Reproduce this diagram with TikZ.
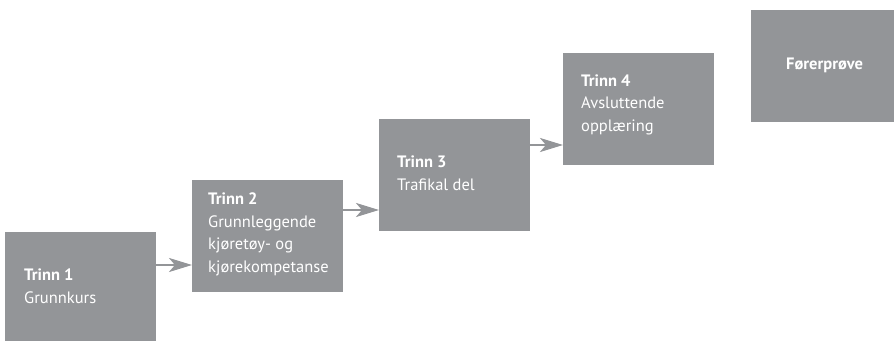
\documentclass[tikz,border=0pt]{standalone}
\usepackage{fontspec}
\setmainfont{PT Sans}
\usetikzlibrary{arrows.meta}
\definecolor{stepgray}{HTML}{939598}

\begin{document}
\begin{tikzpicture}[x=1pt, y=-1pt, font=\fontsize{16.5}{22.5}\selectfont,
    >={Stealth[length=23pt, width=14pt, inset=6pt]},
    box/.style={fill=stepgray, minimum width=151pt, minimum height=112pt,
      anchor=north west, inner sep=0pt, outer sep=0pt},
    lbl/.style={text=white, anchor=base west, align=left, inner sep=0pt},
    arr/.style={->, draw=stepgray, fill=stepgray, line width=2.4pt}]
    \useasboundingbox (0,0) rectangle (894,340);
    % boxes
    \node[box] (b1) at (5,232) {};
    \node[box] (b2) at (192,180) {};
    \node[box] (b3) at (379,119) {};
    \node[box] (b4) at (563,53) {};
    \node[box] (b5) at (751,10) {};
    % texts (base = last line)
    \node[lbl] (t1) at (24,303) {\textbf{Trinn 1}\\Grunnkurs};
    \node[lbl] (t2) at (208,272) {\textbf{Trinn 2}\\Grunnleggende\\kjøretøy- og\\kjørekompetanse};
    \node[lbl] (t3) at (397,190) {\textbf{Trinn 3}\\Trafikal del};
    \node[lbl] (t4) at (581,131) {\textbf{Trinn 4}\\Avsluttende\\opplæring};
    \node[lbl] (t5) at (786,69) {\textbf{Førerprøve}};
    % arrows
    \coordinate (a1) at ([yshift=23pt]b1.east);
    \coordinate (a2) at ([yshift=26pt]b2.east);
    \coordinate (a3) at ([yshift=30pt]b3.east);
    \draw[arr] (a1) -- (a1 -| b2.west);
    \draw[arr] (a2) -- (a2 -| b3.west);
    \draw[arr] (a3) -- (a3 -| b4.west);
\end{tikzpicture}
\end{document}
